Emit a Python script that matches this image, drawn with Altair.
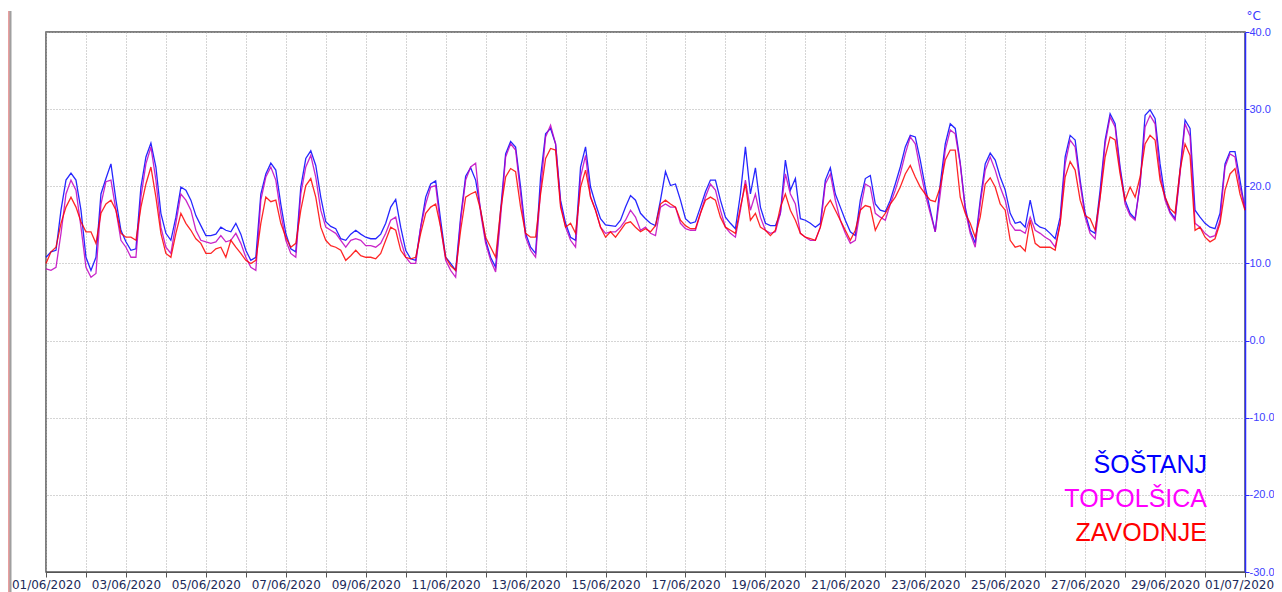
import altair as alt
import pandas as pd

# 3-hourly temperatures (deg C), 01/06/2020 00:00 .. 01/07/2020 00:00
SOSTANJ = [
    10.8, 11.5, 11.7, 16.9, 20.8, 21.7, 20.8, 16.9,
    10.8, 9.1, 10.8, 19.0, 21.0, 22.9, 18.2, 14.3,
    12.8, 11.7, 11.9, 19.9, 23.8, 25.6, 22.5, 16.5,
    13.9, 13.0, 16.0, 19.9, 19.5, 18.2, 16.2, 14.9,
    13.6, 13.6, 13.8, 14.7, 14.3, 14.1, 15.2, 13.8,
    11.7, 10.4, 10.8, 19.0, 21.6, 23.0, 22.1, 17.7,
    13.9, 11.9, 11.5, 19.9, 23.6, 24.6, 22.7, 18.6,
    15.4, 14.8, 14.5, 13.2, 13.0, 13.8, 14.3, 13.8,
    13.4, 13.2, 13.2, 13.8, 15.2, 17.3, 18.3, 14.7,
    11.7, 10.6, 10.4, 14.7, 18.6, 20.3, 20.7, 15.6,
    10.8, 10.0, 9.1, 16.0, 21.3, 22.4, 20.8, 16.9,
    13.0, 10.8, 9.5, 16.9, 24.2, 25.8, 25.1, 19.9,
    13.9, 12.1, 11.3, 21.2, 26.8, 27.5, 25.5, 18.2,
    15.2, 13.4, 13.0, 22.5, 25.1, 19.9, 17.7, 15.8,
    15.0, 14.9, 14.8, 15.6, 17.3, 18.8, 18.2, 16.5,
    15.8, 15.2, 14.9, 18.2, 21.9, 20.1, 20.3, 18.2,
    15.8, 15.2, 15.4, 17.3, 19.3, 20.8, 20.8, 18.2,
    16.0, 15.2, 14.5, 19.0, 25.1, 19.0, 22.4, 17.3,
    15.2, 14.9, 14.9, 16.5, 23.4, 19.5, 21.0, 15.8,
    15.6, 15.2, 14.7, 15.2, 20.8, 22.4, 19.0, 17.3,
    15.6, 14.1, 13.6, 18.2, 21.0, 21.4, 17.7, 16.9,
    16.7, 18.2, 20.3, 22.5, 25.1, 26.6, 26.4, 23.4,
    19.9, 16.9, 14.1, 20.3, 25.5, 28.1, 27.5, 23.0,
    17.3, 14.3, 12.6, 18.2, 22.9, 24.3, 23.4, 21.2,
    19.5, 16.5, 15.2, 15.4, 14.7, 18.2, 15.2, 14.7,
    14.5, 13.9, 13.2, 16.0, 23.8, 26.6, 26.0, 20.8,
    16.5, 14.3, 13.9, 19.5, 26.0, 29.4, 28.1, 22.5,
    18.2, 16.5, 15.8, 20.3, 29.2, 29.9, 28.8, 22.9,
    18.6, 16.7, 15.8, 22.1, 28.6, 27.5, 16.9, 16.0,
    15.2, 14.7, 14.5, 16.5, 22.9, 24.5, 24.5, 20.8,
    16.9,
]
TOPOLSICA = [
    9.3, 9.1, 9.5, 13.9, 19.0, 20.8, 19.5, 14.7,
    9.5, 8.2, 8.7, 17.7, 20.6, 20.8, 16.9, 13.0,
    12.1, 10.8, 10.8, 18.6, 22.9, 25.1, 20.8, 14.7,
    12.1, 11.3, 15.2, 19.0, 18.2, 16.9, 14.3, 13.0,
    12.8, 12.6, 12.8, 13.6, 12.8, 13.0, 13.9, 12.6,
    10.8, 9.5, 9.1, 18.2, 21.2, 22.5, 20.8, 16.5,
    13.0, 11.3, 10.8, 19.0, 22.5, 24.0, 21.2, 16.9,
    14.7, 14.3, 13.9, 13.0, 12.1, 13.0, 13.2, 13.0,
    12.3, 12.3, 12.1, 12.6, 13.9, 15.6, 16.0, 13.0,
    10.8, 10.0, 10.0, 14.7, 17.7, 19.9, 20.1, 14.7,
    10.4, 9.1, 8.2, 15.6, 20.8, 22.5, 23.0, 16.5,
    12.6, 10.4, 8.9, 16.0, 23.8, 25.5, 24.7, 19.0,
    13.4, 11.7, 10.8, 19.5, 26.4, 27.9, 25.5, 17.7,
    14.7, 13.0, 12.1, 21.2, 24.0, 18.6, 16.9, 14.7,
    13.9, 14.1, 14.1, 14.7, 15.6, 16.9, 16.0, 14.3,
    14.7, 13.9, 13.6, 17.3, 17.7, 17.3, 17.3, 15.2,
    14.5, 14.3, 14.3, 16.5, 18.6, 20.3, 19.5, 16.9,
    14.7, 13.9, 13.4, 16.9, 20.8, 16.9, 19.0, 16.0,
    14.3, 13.9, 14.1, 16.5, 21.6, 19.0, 17.7, 13.9,
    13.4, 13.0, 13.0, 14.7, 20.3, 21.6, 18.2, 15.6,
    13.9, 12.6, 13.0, 16.9, 20.3, 19.9, 16.5, 16.0,
    15.6, 17.7, 19.5, 21.6, 24.2, 26.4, 25.5, 22.1,
    19.0, 16.5, 14.1, 19.0, 24.7, 27.3, 26.8, 22.9,
    16.9, 13.9, 12.1, 17.7, 22.1, 23.8, 22.1, 19.9,
    18.2, 15.2, 14.3, 14.3, 13.9, 16.0, 14.3, 13.9,
    13.4, 13.0, 12.1, 15.2, 22.9, 26.0, 25.1, 20.3,
    16.0, 13.9, 13.2, 18.6, 25.5, 29.0, 27.7, 22.1,
    17.7, 16.2, 15.6, 20.3, 27.7, 29.2, 28.1, 21.6,
    18.2, 16.5, 15.6, 21.6, 28.1, 26.5, 15.2, 14.7,
    13.9, 13.4, 13.6, 15.6, 22.5, 24.2, 23.8, 19.9,
    17.3,
]
ZAVODNJE = [
    10.0, 11.5, 12.1, 15.2, 17.3, 18.6, 17.3, 15.4,
    14.1, 14.1, 12.6, 16.5, 17.7, 18.2, 16.9, 13.9,
    13.4, 13.4, 13.0, 17.3, 20.3, 22.5, 18.6, 13.9,
    11.3, 10.8, 13.9, 16.5, 15.2, 14.3, 13.2, 12.6,
    11.3, 11.3, 11.9, 12.1, 10.8, 13.0, 12.1, 11.3,
    10.4, 10.0, 10.4, 15.2, 18.6, 18.0, 18.2, 15.2,
    13.4, 12.1, 12.6, 16.9, 20.1, 21.0, 18.6, 14.7,
    13.0, 12.3, 12.1, 11.7, 10.4, 11.0, 11.7, 11.0,
    10.8, 10.8, 10.6, 11.3, 13.0, 14.7, 14.3, 11.7,
    10.8, 10.6, 10.8, 13.9, 16.5, 17.3, 17.7, 14.7,
    10.8, 9.7, 9.1, 14.3, 18.6, 19.0, 19.3, 16.9,
    13.4, 12.1, 10.8, 16.9, 21.2, 22.3, 21.9, 17.3,
    13.9, 13.4, 13.4, 19.0, 23.6, 24.9, 24.7, 17.3,
    14.7, 15.2, 13.9, 19.9, 22.1, 18.6, 16.9, 14.7,
    13.4, 14.1, 13.4, 14.3, 15.2, 15.4, 14.7, 14.1,
    14.5, 14.1, 14.9, 17.7, 18.2, 17.7, 17.3, 15.6,
    14.9, 14.5, 14.5, 16.5, 18.2, 18.6, 18.2, 16.0,
    14.7, 14.3, 13.9, 17.3, 20.3, 15.6, 16.5, 14.7,
    14.3, 13.6, 14.3, 17.3, 19.0, 16.9, 15.6, 13.9,
    13.4, 13.2, 13.0, 14.7, 17.3, 18.2, 16.9, 15.6,
    14.3, 13.0, 14.3, 16.9, 17.5, 17.3, 14.3, 15.6,
    16.5, 17.7, 18.6, 19.9, 21.6, 22.7, 21.2, 19.9,
    19.0, 18.2, 18.0, 19.9, 23.4, 24.7, 24.7, 18.6,
    16.5, 15.2, 13.4, 16.0, 20.3, 21.1, 19.9, 17.7,
    16.9, 13.0, 12.1, 12.3, 11.6, 15.6, 12.6, 12.1,
    12.1, 12.1, 11.7, 15.2, 21.2, 23.2, 22.1, 18.2,
    16.2, 15.8, 14.3, 18.6, 23.8, 26.4, 26.0, 21.6,
    18.2, 19.9, 18.6, 21.2, 25.5, 26.6, 26.0, 20.8,
    18.6, 17.1, 16.5, 22.1, 25.5, 24.0, 14.3, 14.7,
    13.4, 12.8, 13.2, 15.2, 19.5, 21.6, 22.3, 19.0,
    16.9,
]

STATIONS = ["ŠOŠTANJ", "TOPOLŠICA", "ZAVODNJE"]
LINE_COLORS = ["#0000ff", "#c000c0", "#ff0000"]
LABEL_COLORS = ["#0000ff", "#ff00ff", "#ff0000"]
Y_TICKS = [-30, -20, -10, 0, 10, 20, 30, 40]
DAYS_JUNE = list(range(1, 31))
START = "2020-06-01 00:00"
STEP = "3h"

times = pd.date_range(START, periods=len(SOSTANJ), freq=STEP)
frames = []
for name, vals in zip(STATIONS, [SOSTANJ, TOPOLSICA, ZAVODNJE]):
    frames.append(pd.DataFrame({"t": times, "v": vals, "station": name}))
df = pd.concat(frames, ignore_index=True)

tick_dates = [alt.DateTime(year=2020, month=6, date=d) for d in DAYS_JUNE] + [
    alt.DateTime(year=2020, month=7, date=1)
]

GRID = "#aaaaaa"

x_enc = alt.X(
    "t:T",
    scale=alt.Scale(
        domain=[alt.DateTime(year=2020, month=6, date=1), alt.DateTime(year=2020, month=7, date=1)]
    ),
    axis=alt.Axis(
        values=tick_dates,
        labelExpr="date(datum.value) % 2 == 1 ? timeFormat(datum.value, '%d/%m/%Y') : ''",
        labelOffset={"condition": {"test": "month(datum.value) == 6", "value": -6}, "value": 0},
        title=None,
        grid=True,
        gridColor=GRID,
        gridDash=[1, 2],
        gridWidth=1,
        domainColor="#555555",
        tickColor="#555555",
        tickSize=5,
        labelColor="#1c2a5a",
        labelFont="DejaVu Sans",
        labelFontSize=12,
        labelPadding=2,
        labelFlush=False,
        labelOverlap=False,
        labelBound=False,
    ),
)
y_enc = alt.Y(
    "v:Q",
    scale=alt.Scale(domain=[-30, 40], nice=False, zero=False),
    axis=alt.Axis(
        orient="right",
        values=Y_TICKS,
        labelExpr="replace(format(datum.value, '.1f'), '\u2212', '-')",
        title="°C",
        titleAngle=0,
        titleX=1,
        titleY=-17,
        titleAlign="left",
        titleBaseline="middle",
        titleColor="#3a3aff",
        titleFont="DejaVu Sans",
        titleFontSize=12,
        titleFontWeight="normal",
        grid=True,
        gridColor=GRID,
        gridDash=[1, 2],
        domainColor="#2a2aff",
        domainWidth=1.5,
        tickColor="#2a2aff",
        tickSize=4,
        labelColor="#4040ff",
        labelFont="Liberation Sans",
        labelFontSize=11,
        labelPadding=0,
        labelFlush=False,
        labelBound=False,
    ),
)

lines = alt.Chart(df).mark_line(strokeWidth=1.3, opacity=0.85, interpolate="linear").encode(
    x=x_enc,
    y=y_enc,
    color=alt.Color("station:N", scale=alt.Scale(domain=STATIONS, range=LINE_COLORS), legend=None),
)

marker = pd.DataFrame({"a": [0]})
edge_red = alt.Chart(marker).mark_rule(color="#d04040", strokeWidth=1).encode(
    x=alt.value(-37), y=alt.value(-21), y2=alt.value(560)
)
edge_gray = alt.Chart(marker).mark_rule(color="#a0a0a0", strokeWidth=2).encode(
    x=alt.value(-35.5), y=alt.value(-21), y2=alt.value(560)
)

label_layers = []
for name, col, ypos in zip(STATIONS, LABEL_COLORS, [441, 475, 509]):
    label_layers.append(
        alt.Chart(pd.DataFrame({"name": [name]})).mark_text(
            align="right", baseline="alphabetic", font="Liberation Sans", fontSize=25, color=col
        ).encode(text="name:N", x=alt.value(1161), y=alt.value(ypos))
    )

chart = alt.layer(lines, edge_red, edge_gray, *label_layers).properties(
    width=1199,
    height=540,
    autosize=alt.AutoSizeParams(type="none"),
    padding={"left": 38, "top": 24, "right": 29, "bottom": 20},
    background="white",
).configure_view(stroke="#555555", strokeWidth=1.5)

chart.save("out.html", embed_options={"renderer": "svg", "actions": False})
